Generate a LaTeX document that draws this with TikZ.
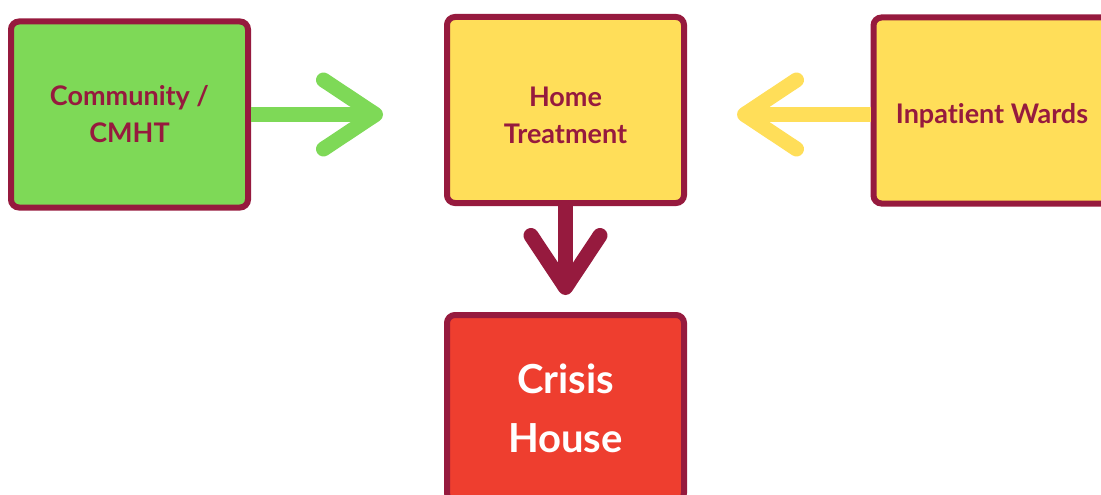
\documentclass[tikz,border=0pt]{standalone}
\usepackage{fontspec}
\setmainfont{Lato}[Ligatures = NoCommon]
\usetikzlibrary{arrows.meta}
\definecolor{wine}{HTML}{961A3E}
\definecolor{leaf}{HTML}{7ED957}
\definecolor{sun}{HTML}{FFDE59}
\definecolor{alarm}{HTML}{EE3E2F}
\newcommand{\lowered}{\rule{0pt}{31pt}}

\begin{document}
\begin{tikzpicture}[x = 1pt, y = -1pt, line width = 6pt,
                        box/.style = {draw = wine, rounded corners = 8pt, minimum width = 237pt,
                                      minimum height = 186pt, align = center, text = wine,
                                      font = \bfseries\fontsize{27}{37}\selectfont},
                        flow/.style = {line width = 15pt, -{Straight Barb[round, length = 52pt, width = 69pt]}}]
      \useasboundingbox (0, 0) rectangle (1101, 495);
      \clip (0, 0) rectangle (1101, 495);
      \node [box, fill = leaf] (cmht) at (129.5, 114.5){Community /\\CMHT};
      \node [box, fill = sun] (home) at (565.5, 110){\lowered Home\\Treatment};
      \node [box, fill = sun] (wards) at (992, 110.5){\lowered Inpatient Wards};
      \node [box, fill = alarm, text = white, font = \bfseries\fontsize{40}{59}\selectfont] (crisis) at (565.5, 408){Crisis\\House};
      \draw [flow, leaf, shorten > = 61pt] (cmht) -- (cmht -| home.west);
      \draw [flow, sun, shorten > = 50pt] (wards.west |- cmht) -- (cmht -| home.east);
      \draw [flow, wine, shorten > = 17pt] (home) -- (crisis);
    \end{tikzpicture}
\end{document}
